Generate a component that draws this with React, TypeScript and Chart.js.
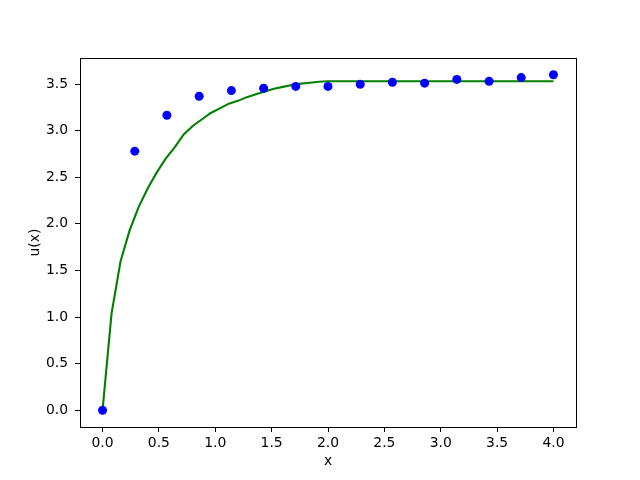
import React, { useEffect, useRef } from "react";
import { Chart, registerables } from "chart.js";

Chart.register(...registerables);

const pointX = [0, 0.286, 0.571, 0.857, 1.143, 1.429, 1.714, 2.0, 2.286, 2.571, 2.857, 3.143, 3.429, 3.714, 4.0];
const pointY = [0, 2.78, 3.165, 3.37, 3.43, 3.455, 3.475, 3.475, 3.497, 3.52, 3.51, 3.55, 3.53, 3.57, 3.6];

const lineX = [0, 0.08, 0.16, 0.24, 0.32, 0.4, 0.48, 0.56, 0.64, 0.72, 0.8, 0.88, 0.96, 1.04, 1.12, 1.2, 1.28, 1.36, 1.44, 1.52, 1.6, 1.68, 1.76, 1.84, 1.92, 2.0, 4.0];
const lineY = [0, 1.04, 1.6, 1.93, 2.18, 2.38, 2.55, 2.7, 2.82, 2.96, 3.05, 3.12, 3.19, 3.24, 3.29, 3.32, 3.36, 3.39, 3.42, 3.45, 3.47, 3.49, 3.505, 3.515, 3.525, 3.53, 3.53];

const xTicks = [0, 0.5, 1.0, 1.5, 2.0, 2.5, 3.0, 3.5, 4.0];
const yTicks = [0, 0.5, 1.0, 1.5, 2.0, 2.5, 3.0, 3.5];

const xLabel = "x";
const yLabel = "u(x)";

const FONT = { family: "'DejaVu Sans', sans-serif", size: 13.9 };

const framePlugin = {
  id: "frame",
  afterDraw(chart: any) {
    const { ctx, chartArea } = chart;
    ctx.save();
    ctx.strokeStyle = "#000";
    ctx.lineWidth = 1;
    ctx.strokeRect(
      Math.round(chartArea.left) + 0.5,
      Math.round(chartArea.top) + 0.5,
      Math.round(chartArea.right - chartArea.left),
      Math.round(chartArea.bottom - chartArea.top)
    );
    ctx.restore();
  },
};

export default function App() {
  const ref = useRef<HTMLCanvasElement>(null);

  useEffect(() => {
    if (!ref.current) return;
    const chart = new Chart(ref.current, {
      type: "scatter",
      data: {
        datasets: [
          {
            label: "points",
            data: pointX.map((x, i) => ({ x, y: pointY[i] })),
            backgroundColor: "#0000ff",
            borderColor: "#0000ff",
            pointRadius: 4.5,
            pointBorderWidth: 0,
            showLine: false,
            order: 0,
          },
          {
            label: "line",
            data: lineX.map((x, i) => ({ x, y: lineY[i] })),
            borderColor: "#008000",
            backgroundColor: "#008000",
            borderWidth: 2.1,
            pointRadius: 0,
            showLine: true,
            tension: 0,
            order: 1,
          },
        ],
      },
      options: {
        responsive: false,
        animation: false,
        devicePixelRatio: 1,
        layout: { padding: { left: 0, top: 58, right: 64, bottom: 0 } },
        plugins: { legend: { display: false }, tooltip: { enabled: false } },
        scales: {
          x: {
            type: "linear",
            min: -0.2,
            max: 4.2,
            afterBuildTicks: (s: any) => {
              s.ticks = xTicks.map((v) => ({ value: v }));
            },
            afterFit: (s: any) => {
              s.height = 53;
            },
            grid: {
              drawOnChartArea: false,
              drawTicks: true,
              tickLength: 5,
              tickWidth: 1,
              color: "#000",
            },
            border: { display: true, color: "#000", width: 1 },
            ticks: {
              color: "#000",
              font: FONT,
              padding: 3.5,
              maxRotation: 0,
              autoSkip: false,
              callback: (v: any) => Number(v).toFixed(1),
            },
            title: {
              display: true,
              text: xLabel,
              color: "#000",
              font: FONT,
              padding: { top: 0, bottom: 10 },
            },
          },
          y: {
            type: "linear",
            min: -0.18,
            max: 3.78,
            afterBuildTicks: (s: any) => {
              s.ticks = yTicks.map((v) => ({ value: v }));
            },
            afterFit: (s: any) => {
              s.width = 80;
            },
            grid: {
              drawOnChartArea: false,
              drawTicks: true,
              tickLength: 5,
              tickWidth: 1,
              color: "#000",
            },
            border: { display: true, color: "#000", width: 1 },
            ticks: {
              color: "#000",
              font: FONT,
              padding: 7,
              autoSkip: false,
              callback: (v: any) => Number(v).toFixed(1),
            },
            title: {
              display: true,
              text: yLabel,
              color: "#000",
              font: FONT,
              padding: { top: 27, bottom: 0 },
            },
          },
        },
      },
      plugins: [framePlugin],
    });
    return () => chart.destroy();
  }, []);

  return (
    <div style={{ position: "fixed", left: 0, top: 0, width: 640, height: 480, background: "#fff" }}>
      <canvas ref={ref} width={640} height={480} style={{ width: 640, height: 480 }} />
    </div>
  );
}
